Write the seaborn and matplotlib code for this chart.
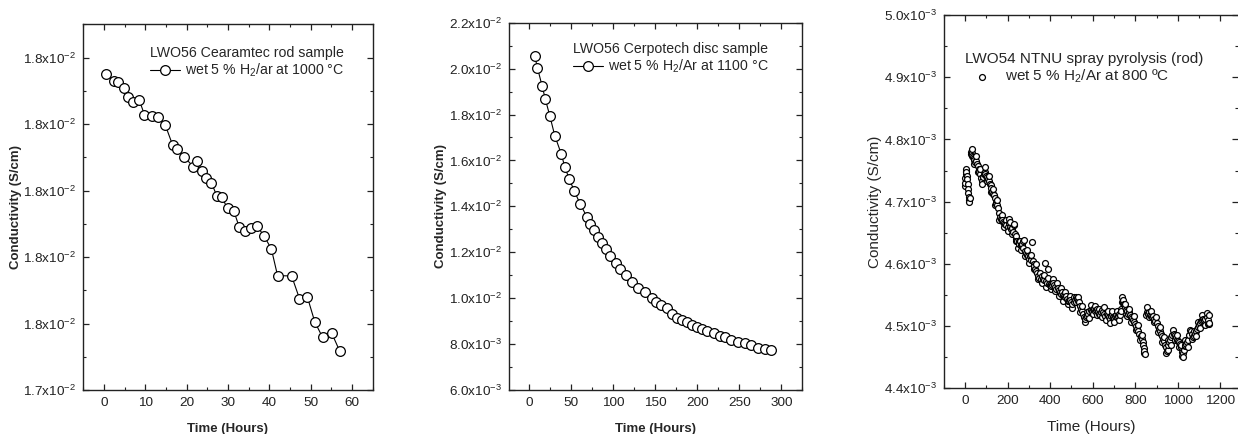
import numpy as np
import pandas as pd
import matplotlib
matplotlib.use("Agg")
import matplotlib.pyplot as plt
from matplotlib.ticker import FixedLocator, FixedFormatter, MultipleLocator
import seaborn as sns

# ---------------- data ----------------
# Panel 1: LWO56 Cearamtec rod sample, wet 5 % H2/ar at 1000 °C
t1 = [0.6, 2.4, 3.5, 4.8, 5.9, 7.0, 8.5, 9.8, 11.5, 13.1,
      14.8, 16.6, 17.6, 19.4, 21.6, 22.6, 23.7, 24.8, 26.0, 27.3,
      28.5, 29.9, 31.4, 32.7, 34.2, 35.6, 37.1, 38.8, 40.5, 42.0,
      45.4, 47.3, 49.2, 51.0, 52.9, 55.1, 57.0]
c1 = [0.017975, 0.017965, 0.0179635, 0.0179545, 0.01794, 0.0179325, 0.0179365, 0.017914, 0.0179115, 0.01791,
      0.017899, 0.0178685, 0.017863, 0.0178505, 0.017836, 0.017845, 0.0178295, 0.0178185, 0.0178115, 0.017792,
      0.01779, 0.017773, 0.0177695, 0.0177455, 0.0177395, 0.017743, 0.017746, 0.017731, 0.017712, 0.017672,
      0.0176715, 0.0176375, 0.01764, 0.0176025, 0.017579, 0.0175855, 0.017559]
y1_ticks = [0.0175, 0.0176, 0.0177, 0.0178, 0.0179, 0.0180]
y1_labels = ["1.7x10$^{-2}$", "1.8x10$^{-2}$", "1.8x10$^{-2}$", "1.8x10$^{-2}$", "1.8x10$^{-2}$", "1.8x10$^{-2}$"]
x1_ticks = [0, 10, 20, 30, 40, 50, 60]

# Panel 2: LWO56 Cerpotech disc sample, wet 5 % H2/Ar at 1100 °C
t2 = [6.3, 9.5, 15.1, 19.0, 24.2, 30.2, 38.1, 42.1, 47.6, 53.6,
      60.3, 68.3, 72.2, 76.6, 81.3, 86.1, 90.9, 96.4, 102.8, 108.3,
      115.5, 121.8, 129.0, 137.7, 146.0, 150.8, 156.3, 163.9, 169.4, 175.4,
      181.7, 187.3, 193.7, 199.2, 205.6, 211.9, 219.8, 227.0, 233.3, 240.5,
      248.4, 256.3, 264.3, 271.8, 280.2, 287.3]
c2 = [0.020543, 0.020035, 0.019237, 0.018656, 0.017945, 0.017074, 0.016261, 0.01571, 0.015173, 0.01465,
      0.014113, 0.013547, 0.013242, 0.012967, 0.012676, 0.012401, 0.012139, 0.011835, 0.011515, 0.011254,
      0.011007, 0.010703, 0.010456, 0.010267, 0.009991, 0.009832, 0.009716, 0.009556, 0.009309, 0.00915,
      0.009033, 0.008961, 0.00883, 0.008729, 0.008656, 0.008569, 0.008467, 0.008351, 0.008293, 0.008192,
      0.008105, 0.008032, 0.007974, 0.007843, 0.0078, 0.007756]
y2_ticks = [0.006, 0.008, 0.010, 0.012, 0.014, 0.016, 0.018, 0.020, 0.022]
y2_labels = ["6.0x10$^{-3}$", "8.0x10$^{-3}$", "1.0x10$^{-2}$", "1.2x10$^{-2}$", "1.4x10$^{-2}$",
             "1.6x10$^{-2}$", "1.8x10$^{-2}$", "2.0x10$^{-2}$", "2.2x10$^{-2}$"]
x2_ticks = [0, 50, 100, 150, 200, 250, 300]

# Panel 3: LWO54 NTNU spray pyrolysis (rod), wet 5 % H2/Ar at 800 ºC  (values in 1e-3 S/cm)
t3_start = [0, 1, 2, 3, 4, 5, 6, 8, 10, 12, 14, 16, 18, 20, 21, 22]
c3_start = [4.725, 4.730, 4.738, 4.745, 4.750, 4.752, 4.748, 4.742, 4.736, 4.728,
            4.720, 4.714, 4.708, 4.703, 4.700, 4.706]
t3_main = [27, 29, 31, 34, 37, 40, 44, 48, 52, 56,
           60, 64, 68, 72, 76, 80, 84, 88, 92, 96,
           100, 104, 108, 112, 116, 120, 124, 128, 132, 136,
           140, 144, 148, 152, 156, 160, 164, 168, 172, 176,
           180, 185, 190, 195, 200, 205, 208, 212, 216, 220,
           225, 230, 234, 238, 242, 246, 250, 254, 258, 262,
           266, 270, 274, 278, 282, 286, 290, 295, 300, 305,
           310, 314, 318, 322, 326, 330, 335, 340, 345, 350,
           355, 360, 365, 370, 375, 380, 385, 390, 394, 398,
           402, 406, 410, 415, 420, 425, 430, 435, 440, 445,
           450, 455, 460, 465, 470, 475, 480, 485, 490, 495,
           500, 505, 510, 515, 520, 525, 530, 535, 540, 545,
           550, 555, 560, 565, 570, 575, 580, 585, 590, 595,
           600, 605, 610, 615, 620, 625, 630, 635, 640, 645,
           650, 655, 660, 665, 670, 675, 680, 685, 690, 695,
           700, 705, 710, 715, 720, 725, 730, 734, 737, 740,
           743, 746, 750, 755, 760, 765, 770, 775, 780, 785,
           790, 795, 800, 805, 810, 815, 820, 825, 830, 835,
           838, 841, 843, 845]
c3_main = [4.780, 4.776, 4.779, 4.774, 4.771, 4.770, 4.767, 4.764, 4.766, 4.761,
           4.757, 4.752, 4.748, 4.744, 4.738, 4.733, 4.740, 4.745, 4.747, 4.744,
           4.742, 4.740, 4.736, 4.733, 4.729, 4.726, 4.722, 4.716, 4.712, 4.710,
           4.706, 4.700, 4.697, 4.695, 4.690, 4.682, 4.675, 4.672, 4.670, 4.671,
           4.668, 4.666, 4.664, 4.662, 4.660, 4.665, 4.672, 4.660, 4.656, 4.658,
           4.652, 4.663, 4.648, 4.640, 4.645, 4.636, 4.625, 4.632, 4.636, 4.630,
           4.628, 4.632, 4.626, 4.638, 4.620, 4.618, 4.615, 4.612, 4.608, 4.612,
           4.606, 4.635, 4.604, 4.600, 4.596, 4.592, 4.588, 4.585, 4.580, 4.578,
           4.576, 4.580, 4.575, 4.574, 4.601, 4.572, 4.570, 4.592, 4.568, 4.566,
           4.568, 4.564, 4.566, 4.570, 4.566, 4.563, 4.560, 4.562, 4.558, 4.555,
           4.552, 4.554, 4.550, 4.548, 4.546, 4.548, 4.544, 4.541, 4.540, 4.542,
           4.538, 4.536, 4.538, 4.542, 4.546, 4.545, 4.540, 4.538, 4.533, 4.528,
           4.525, 4.520, 4.515, 4.512, 4.514, 4.516, 4.520, 4.524, 4.526, 4.525,
           4.528, 4.527, 4.524, 4.526, 4.528, 4.524, 4.520, 4.518, 4.522, 4.526,
           4.523, 4.519, 4.516, 4.520, 4.518, 4.514, 4.512, 4.516, 4.519, 4.515,
           4.513, 4.516, 4.518, 4.514, 4.516, 4.520, 4.518, 4.525, 4.538, 4.547,
           4.542, 4.535, 4.530, 4.526, 4.524, 4.520, 4.522, 4.518, 4.515, 4.513,
           4.510, 4.506, 4.503, 4.500, 4.496, 4.492, 4.488, 4.484, 4.480, 4.475,
           4.470, 4.465, 4.460, 4.455]
t3_end = [852, 855, 858, 862, 866, 870, 875, 880, 885, 890,
          895, 900, 905, 910, 915, 920, 925, 930, 935, 940,
          944, 948, 952, 956, 960, 965, 970, 975, 980, 985,
          990, 995, 1000, 1005, 1010, 1014, 1018, 1021, 1024, 1028,
          1032, 1036, 1040, 1045, 1050, 1055, 1060, 1065, 1070, 1075,
          1080, 1085, 1090, 1095, 1100, 1105, 1110, 1115, 1120, 1125,
          1130, 1135, 1140, 1143, 1146, 1148]
c3_end = [4.518, 4.523, 4.521, 4.519, 4.522, 4.518, 4.516, 4.514, 4.516, 4.512,
          4.508, 4.505, 4.500, 4.496, 4.492, 4.488, 4.484, 4.480, 4.476, 4.470,
          4.466, 4.460, 4.462, 4.470, 4.474, 4.478, 4.482, 4.486, 4.488, 4.486,
          4.482, 4.478, 4.476, 4.475, 4.472, 4.466, 4.458, 4.452, 4.456, 4.462,
          4.468, 4.470, 4.472, 4.474, 4.478, 4.485, 4.492, 4.488, 4.482, 4.484,
          4.488, 4.492, 4.495, 4.498, 4.502, 4.505, 4.508, 4.510, 4.512, 4.510,
          4.512, 4.514, 4.510, 4.503, 4.518, 4.505]
# scatter around the trend (band edges)
t3_band = [32, 42, 52, 62, 72, 82, 92, 102, 112, 122,
           132, 142, 152, 162, 172, 182, 192, 202, 212, 222,
           232, 242, 252, 262, 272, 282, 292, 302, 312, 322,
           332, 342, 352, 362, 372, 382, 392, 402, 412, 422,
           432, 442, 452, 462, 472, 482, 492, 502, 512, 522,
           532, 542, 552, 562, 572, 582, 592, 602, 612, 622,
           632, 642, 652, 662, 672, 682, 692, 702, 712, 722,
           732, 742, 752, 762, 772, 782, 792, 802, 812, 822,
           832, 842, 856, 866, 876, 886, 896, 906, 916, 926,
           936, 946, 956, 966, 976, 986, 996, 1006, 1016, 1026,
           1036, 1046, 1056, 1066, 1076, 1086, 1096, 1106, 1116, 1126,
           1136, 1146]
c3_band = [4.785, 4.761, 4.774, 4.747, 4.752, 4.729, 4.755, 4.733, 4.741, 4.716,
           4.720, 4.695, 4.703, 4.671, 4.678, 4.659, 4.671, 4.653, 4.668, 4.648,
           4.664, 4.637, 4.637, 4.622, 4.637, 4.612, 4.622, 4.602, 4.614, 4.592,
           4.599, 4.575, 4.585, 4.570, 4.582, 4.563, 4.577, 4.560, 4.575, 4.557,
           4.569, 4.549, 4.561, 4.541, 4.555, 4.535, 4.549, 4.529, 4.547, 4.538,
           4.547, 4.523, 4.532, 4.506, 4.523, 4.513, 4.534, 4.519, 4.533, 4.518,
           4.528, 4.515, 4.530, 4.510, 4.525, 4.505, 4.525, 4.506, 4.524, 4.509,
           4.528, 4.537, 4.536, 4.516, 4.528, 4.507, 4.516, 4.494, 4.502, 4.478,
           4.486, 4.456, 4.530, 4.514, 4.524, 4.507, 4.515, 4.491, 4.498, 4.475,
           4.483, 4.457, 4.477, 4.470, 4.494, 4.478, 4.485, 4.467, 4.470, 4.451,
           4.478, 4.466, 4.494, 4.480, 4.492, 4.484, 4.506, 4.497, 4.518, 4.502,
           4.521, 4.503]
y3_ticks = [0.0044, 0.0045, 0.0046, 0.0047, 0.0048, 0.0049, 0.0050]
y3_labels = ["4.4x10$^{-3}$", "4.5x10$^{-3}$", "4.6x10$^{-3}$", "4.7x10$^{-3}$",
             "4.8x10$^{-3}$", "4.9x10$^{-3}$", "5.0x10$^{-3}$"]
x3_ticks = [0, 200, 400, 600, 800, 1000, 1200]

# ---------------- style ----------------
sns.set_theme(style="ticks")
plt.rcParams["font.family"] = ["Liberation Sans", "DejaVu Sans"]
plt.rcParams["mathtext.fontset"] = "custom"
plt.rcParams["mathtext.rm"] = "Liberation Sans"
plt.rcParams["mathtext.it"] = "Liberation Sans:italic"
plt.rcParams["mathtext.bf"] = "Liberation Sans:bold"
plt.rcParams["axes.linewidth"] = 1.0
plt.rcParams["axes.edgecolor"] = "#222222"

fig = plt.figure(figsize=(12.38, 4.34), dpi=100)
ax1 = fig.add_axes([0.0673, 0.1014, 0.2337, 0.8426])
ax2 = fig.add_axes([0.4114, 0.1014, 0.2367, 0.8463])
ax3 = fig.add_axes([0.7623, 0.1053, 0.2377, 0.8601])


def style_axes(ax):
    ax.tick_params(which="both", direction="in", top=True, right=True,
                   labelsize=9.7, colors="#222222", labelcolor="#222222")
    ax.tick_params(which="major", length=4, width=0.9, pad=5)
    ax.tick_params(which="minor", length=2, width=0.8)
    for s in ax.spines.values():
        s.set_visible(True)
        s.set_color("#222222")


# Panel 1
sns.lineplot(x=t1, y=c1, ax=ax1, color="black", linewidth=0.8, estimator=None,
             marker="o", markersize=7, markerfacecolor="white", markeredgecolor="black",
             markeredgewidth=0.9, label="wet 5 % H$_2$/ar at 1000 \u00b0C")
ax1.set_xlim(-5, 65)
ax1.set_ylim(0.0175, 0.01805)
ax1.yaxis.set_major_locator(FixedLocator(y1_ticks))
ax1.yaxis.set_major_formatter(FixedFormatter(y1_labels))
ax1.yaxis.set_minor_locator(MultipleLocator(0.00005))
ax1.set_xticks(x1_ticks)
ax1.xaxis.set_minor_locator(MultipleLocator(5))
ax1.set_xlabel("Time (Hours)", fontsize=9.5, fontweight="bold", labelpad=10)
ax1.set_ylabel("Conductivity (S/cm)", fontsize=9.5, fontweight="bold", labelpad=1)
style_axes(ax1)
ax1.legend(title="LWO56 Cearamtec rod sample", loc="upper left", frameon=False,
           fontsize=10.2, title_fontsize=10.2, alignment="left", handlelength=2.15,
           handletextpad=0.35, borderaxespad=0.0, labelspacing=0.1,
           bbox_to_anchor=(0.211, 0.955))

# Panel 2
sns.lineplot(x=t2, y=c2, ax=ax2, color="black", linewidth=0.8, estimator=None,
             marker="o", markersize=7, markerfacecolor="white", markeredgecolor="black",
             markeredgewidth=0.9, label="wet 5 % H$_2$/Ar at 1100 \u00b0C")
ax2.set_xlim(-24, 325)
ax2.set_ylim(0.006, 0.022)
ax2.yaxis.set_major_locator(FixedLocator(y2_ticks))
ax2.yaxis.set_major_formatter(FixedFormatter(y2_labels))
ax2.yaxis.set_minor_locator(MultipleLocator(0.001))
ax2.set_xticks(x2_ticks)
ax2.xaxis.set_minor_locator(MultipleLocator(25))
ax2.set_xlabel("Time (Hours)", fontsize=9.5, fontweight="bold", labelpad=10)
ax2.set_ylabel("Conductivity (S/cm)", fontsize=9.5, fontweight="bold", labelpad=2)
style_axes(ax2)
ax2.legend(title="LWO56 Cerpotech disc sample", loc="upper left", frameon=False,
           fontsize=10.2, title_fontsize=10.2, alignment="left", handlelength=2.15,
           handletextpad=0.35, borderaxespad=0.0, labelspacing=0.1,
           bbox_to_anchor=(0.198, 0.962))

# Panel 3 (points drawn in time order so that overlapping circles stack like the original)
df3 = pd.DataFrame({
    "t": t3_start + t3_main + t3_end + t3_band,
    "c": np.array(c3_start + c3_main + c3_end + c3_band) * 1e-3,
}).sort_values("t", kind="stable")
sns.scatterplot(data=df3, x="t", y="c", ax=ax3, s=18, facecolor="white", edgecolor="black",
                linewidth=0.9, label="wet 5 % H$_2$/Ar at 800 \u00baC", zorder=3)
ax3.set_xlim(-100, 1283)
ax3.set_ylim(0.0044, 0.0050)
ax3.yaxis.set_major_locator(FixedLocator(y3_ticks))
ax3.yaxis.set_major_formatter(FixedFormatter(y3_labels))
ax3.yaxis.set_minor_locator(MultipleLocator(0.00005))
ax3.set_xticks(x3_ticks)
ax3.xaxis.set_minor_locator(MultipleLocator(100))
ax3.set_xlabel("Time (Hours)", fontsize=11, labelpad=9)
ax3.set_ylabel("Conductivity (S/cm)", fontsize=11, labelpad=1)
style_axes(ax3)
ax3.spines["right"].set_visible(False)
ax3.legend(title="LWO54 NTNU spray pyrolysis (rod)", loc="upper left", frameon=False,
           fontsize=11, title_fontsize=11, alignment="left", handlelength=2.2,
           handletextpad=0.4, borderaxespad=0.0, labelspacing=0.1,
           bbox_to_anchor=(0.051, 0.917))

fig.savefig("out.png", dpi=100)
